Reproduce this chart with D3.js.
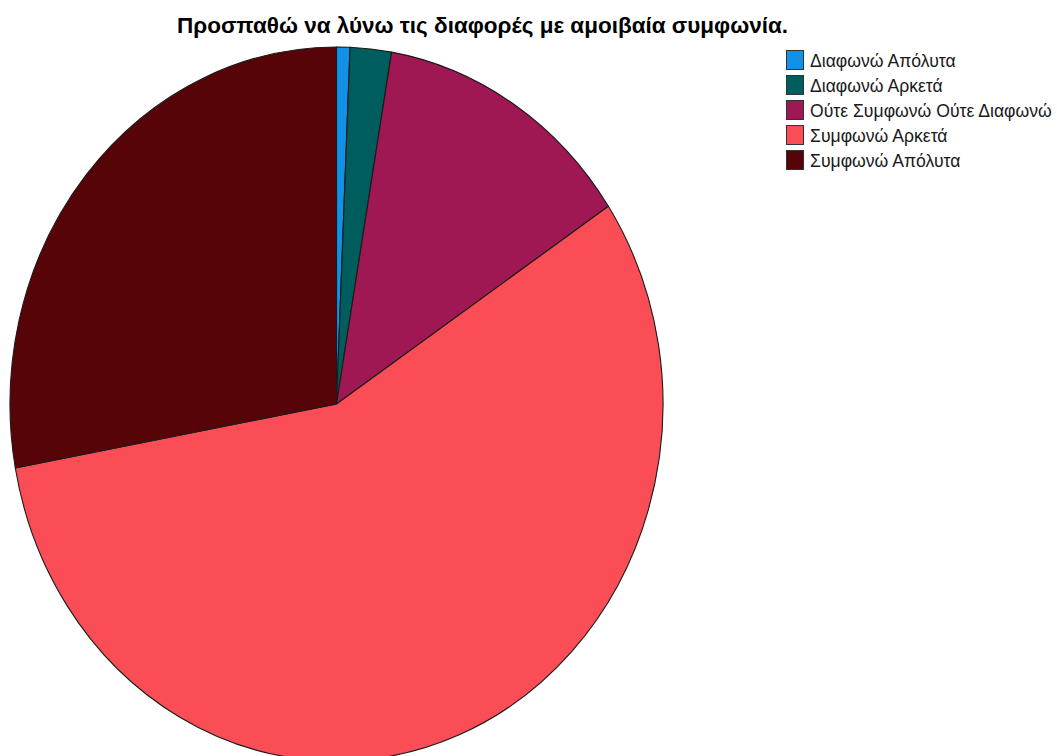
<!DOCTYPE html>
<html>
<head>
<meta charset="utf-8">
<script src="https://cdn.jsdelivr.net/npm/d3@7"></script>
<style>
  html, body { margin: 0; padding: 0; background: #ffffff; }
  svg { display: block; }
</style>
</head>
<body>
<svg id="chart" width="1057" height="756"></svg>
<script>
// Response categories, share of respondents (%), and slice colours
const categories = [
  "Διαφωνώ Απόλυτα",
  "Διαφωνώ Αρκετά",
  "Ούτε Συμφωνώ Ούτε Διαφωνώ",
  "Συμφωνώ Αρκετά",
  "Συμφωνώ Απόλυτα"
];
const values = [0.66, 2.04, 12.96, 56.47, 27.87];
const colors = ["#1192e8", "#005d5d", "#9f1853", "#fa4d56", "#570408"];
const title = "Προσπαθώ να λύνω τις διαφορές με αμοιβαία συμφωνία.";

const svg = d3.select("#chart");

const data = categories.map((c, i) => ({ label: c, value: values[i], color: colors[i] }));

// Pie geometry: slightly taller than wide
const cx = 336.5, cy = 404, rx = 326.5, ry = 357;
const stretch = ry / rx;

const pie = d3.pie().sort(null).value(d => d.value).startAngle(0).endAngle(2 * Math.PI);
const arc = d3.arc().innerRadius(0).outerRadius(rx);

const g = svg.append("g")
  .attr("transform", `translate(${cx},${cy}) scale(1,${stretch})`);

g.selectAll("path")
  .data(pie(data))
  .join("path")
  .attr("d", arc)
  .attr("fill", d => d.data.color)
  .attr("stroke", "#1a1a1a")
  .attr("stroke-width", 1.1)
  .attr("vector-effect", "non-scaling-stroke")
  .attr("stroke-linejoin", "round");

// Title
svg.append("text")
  .attr("transform", "translate(482.5,33)")
  .attr("text-anchor", "middle")
  .attr("font-family", "Liberation Sans, Arial, sans-serif")
  .attr("font-weight", "bold")
  .attr("font-size", 22.5)
  .attr("fill", "#000")
  .text(title);

// Legend
const legend = svg.append("g").attr("transform", "translate(786,50)");
const rowH = 25;
const items = legend.selectAll("g")
  .data(data)
  .join("g")
  .attr("transform", (d, i) => `translate(0,${i * rowH})`);

items.append("rect")
  .attr("x", 0.5)
  .attr("y", 0.5)
  .attr("width", 17)
  .attr("height", 19)
  .attr("fill", d => d.color)
  .attr("stroke", "#333")
  .attr("stroke-width", 1);

items.append("text")
  .attr("transform", `translate(24,16.5) scale(1,${stretch})`)
  .attr("font-family", "Liberation Sans, Arial, sans-serif")
  .attr("font-size", 17.6)
  .attr("fill", "#1a1a1a")
  .text(d => d.label);
</script>
</body>
</html>
